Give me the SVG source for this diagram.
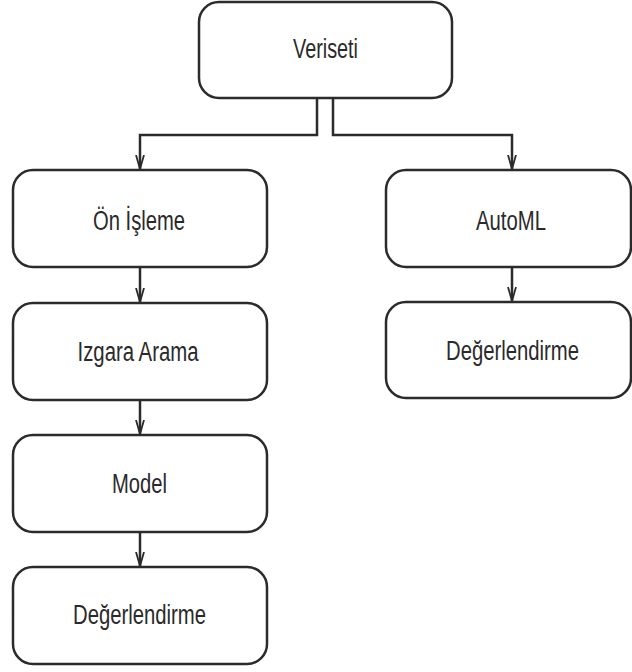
<svg xmlns="http://www.w3.org/2000/svg" width="632" height="672" viewBox="0 0 632 672">
  <style>
    .box { fill: #ffffff; stroke: #2b2b2b; stroke-width: 2.5; }
    .label { font-family: "Liberation Sans", Arial, sans-serif; font-size: 27px; fill: #2a2a2a; text-anchor: middle; }
    .edge { fill: none; stroke: #2b2b2b; stroke-width: 2.5; }
  </style>
  <defs>
    <marker id="arrow" viewBox="0 0 14 10" refX="14" refY="5" markerWidth="14" markerHeight="10" markerUnits="userSpaceOnUse" orient="auto">
      <path d="M0,1 L14,5 L0,9" fill="none" stroke="#2b2b2b" stroke-width="1.8"/>
    </marker>
  </defs>
  <rect width="632" height="672" fill="#ffffff"/>

  <g id="connectors">
    <path class="edge" d="M317,98 V135 H140 V169" marker-end="url(#arrow)"/>
    <path class="edge" d="M333,98 V135 H512 V169" marker-end="url(#arrow)"/>
    <path class="edge" d="M140,267 V302" marker-end="url(#arrow)"/>
    <path class="edge" d="M140,400 V434" marker-end="url(#arrow)"/>
    <path class="edge" d="M140,532 V566" marker-end="url(#arrow)"/>
    <path class="edge" d="M512,267 V301" marker-end="url(#arrow)"/>
  </g>

  <g id="veriseti">
    <rect class="box" x="199" y="2" width="253" height="96" rx="20"/>
    <text class="label" x="325.5" y="58" textLength="65" lengthAdjust="spacingAndGlyphs">Veriseti</text>
  </g>
  <g id="on-isleme">
    <rect class="box" x="13" y="170" width="254" height="97" rx="20"/>
    <text class="label" x="139" y="230" textLength="92" lengthAdjust="spacingAndGlyphs">Ön İşleme</text>
  </g>
  <g id="izgara-arama">
    <rect class="box" x="13" y="303" width="254" height="97" rx="20"/>
    <text class="label" x="138" y="361" textLength="121" lengthAdjust="spacingAndGlyphs">Izgara Arama</text>
  </g>
  <g id="model">
    <rect class="box" x="13" y="435" width="254" height="97" rx="20"/>
    <text class="label" x="139.5" y="493" textLength="55" lengthAdjust="spacingAndGlyphs">Model</text>
  </g>
  <g id="degerlendirme-sol">
    <rect class="box" x="13" y="567" width="254" height="97" rx="20"/>
    <text class="label" x="139.5" y="624" textLength="133" lengthAdjust="spacingAndGlyphs">Değerlendirme</text>
  </g>
  <g id="automl">
    <rect class="box" x="386" y="170" width="245" height="97" rx="20"/>
    <text class="label" x="511" y="230" textLength="70" lengthAdjust="spacingAndGlyphs">AutoML</text>
  </g>
  <g id="degerlendirme-sag">
    <rect class="box" x="386" y="302" width="245" height="96" rx="20"/>
    <text class="label" x="512.5" y="360" textLength="133" lengthAdjust="spacingAndGlyphs">Değerlendirme</text>
  </g>
</svg>
